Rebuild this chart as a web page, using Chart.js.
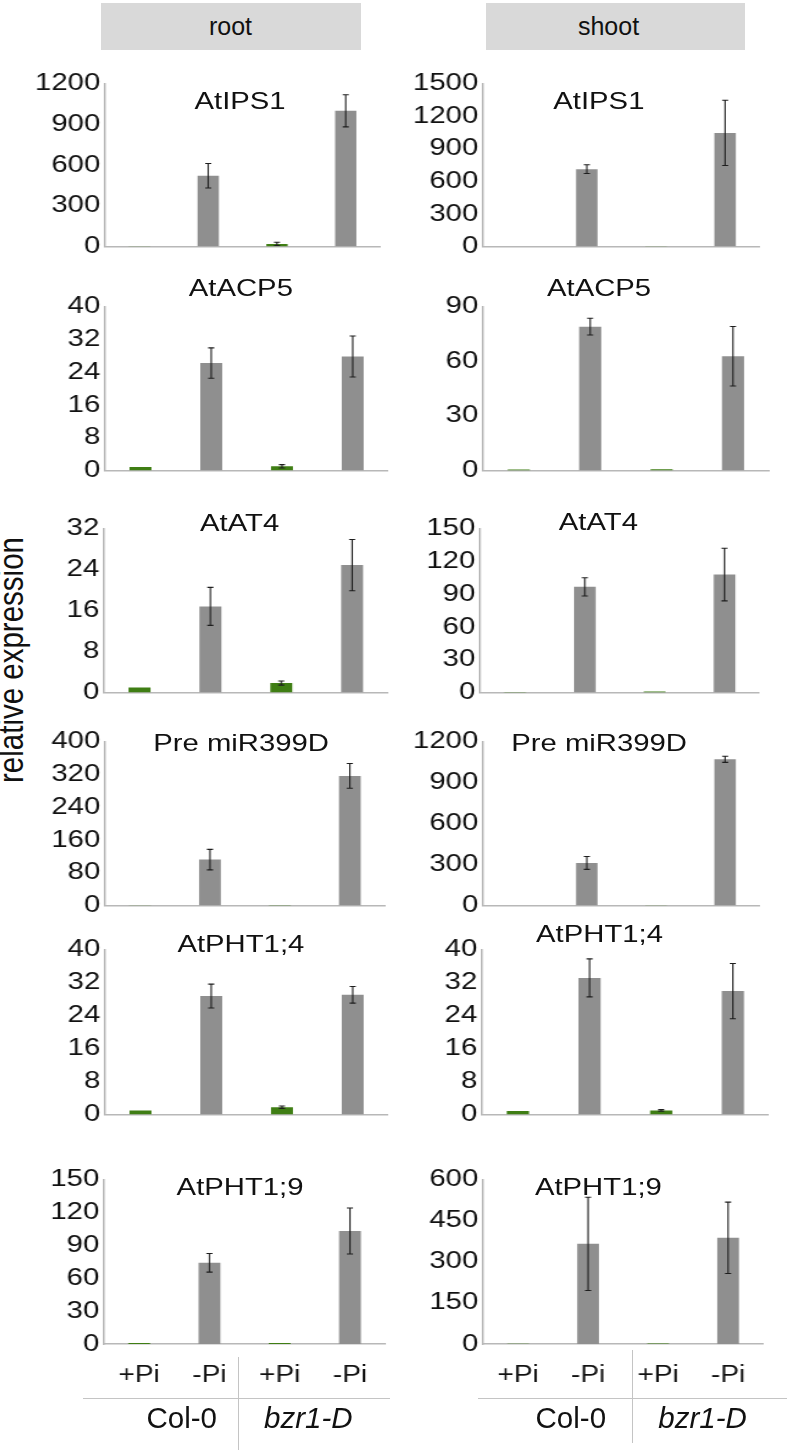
<!DOCTYPE html>
<html>
<head>
<meta charset="utf-8">
<script src="https://cdn.jsdelivr.net/npm/chart.js@4.4.1/dist/chart.umd.min.js"></script>
<style>
  html, body { margin: 0; padding: 0; background: #fff; }
  body { width: 789px; height: 1454px; position: relative; overflow: hidden;
         font-family: "Liberation Sans", Arial, Helvetica, sans-serif; color: #111; }
  .hdr { position: absolute; background: #d9d9d9; }
  .txt { position: absolute; white-space: nowrap; line-height: 1; }
  .panel { position: absolute; transform-origin: 0 0; }
  .panel canvas { position: absolute; left: 0; top: 0; }
  .ttl { position: absolute; white-space: nowrap; line-height: 1; font-size: 24px; color: #111;
         transform: translate(-50%, -50%); }
  .line { position: absolute; background: #c4c4c4; }
</style>
</head>
<body>
<script>
// ---------------- DATA ----------------
const tissues = ["root", "shoot"];
const categories = ["+Pi", "-Pi", "+Pi", "-Pi"];
const groupLabels = ["Col-0", "bzr1-D"];
const genes = ["AtIPS1", "AtACP5", "AtAT4", "Pre miR399D", "AtPHT1;4", "AtPHT1;9"];
const yAxisLabel = "relative expression";

const rootValues = [
  [2, 521, 20, 998],
  [0.9, 26.2, 1.05, 27.8],
  [1.0, 16.8, 1.85, 24.85],
  [1, 112, 1.5, 316],
  [1.0, 28.7, 1.8, 29.0],
  [1, 74, 0.8, 103]
];
const rootErrors = [
  [0.5, 90, 12, 118],
  [0.1, 3.7, 0.4, 5.0],
  [0.1, 3.7, 0.4, 5.0],
  [0.3, 25, 0.5, 30],
  [0.1, 2.9, 0.3, 2.0],
  [0.2, 8.5, 0.2, 21]
];
const shootValues = [
  [1, 712, 3, 1045],
  [0.6, 78.9, 0.8, 62.7],
  [0.5, 96.6, 1.0, 107.8],
  [1, 312, 2, 1069],
  [0.9, 33.1, 1.0, 29.9],
  [1, 365, 2, 387]
];
const shootErrors = [
  [0.3, 40, 1, 300],
  [0.1, 4.6, 0.3, 16.3],
  [0.1, 8.3, 0.5, 24],
  [0.3, 47, 0.5, 22],
  [0.1, 4.6, 0.2, 6.7],
  [0.3, 170, 0.5, 130]
];
const rootTicks = [
  [0, 300, 600, 900, 1200],
  [0, 8, 16, 24, 32, 40],
  [0, 8, 16, 24, 32],
  [0, 80, 160, 240, 320, 400],
  [0, 8, 16, 24, 32, 40],
  [0, 30, 60, 90, 120, 150]
];
const shootTicks = [
  [0, 300, 600, 900, 1200, 1500],
  [0, 30, 60, 90],
  [0, 30, 60, 90, 120, 150],
  [0, 300, 600, 900, 1200],
  [0, 8, 16, 24, 32, 40],
  [0, 150, 300, 450, 600]
];

// ---------------- STYLE / LAYOUT ----------------
const FONT = '"Liberation Sans", Arial, Helvetica, sans-serif';
const STRETCH = 1.22;
const GREEN = "#3f7e14", GRAY = "#8f8f8f", AXIS = "#b8b8b8";
const barColors = [GREEN, GRAY, GREEN, GRAY];
const rowTop  = [81, 304.3, 526.2, 739.3, 947.3, 1177];
const rowZero = [249, 472.7, 695, 908.3, 1116.7, 1344];
const axisLeft  = [[105, 482.7], [105, 482.7], [104.5, 480], [105.3, 482.7], [105, 481.7], [104, 482.7]];
const axisRight = [[380, 759.3], [388, 768.3], [388, 759.3], [385, 759.3], [388, 768.3], [385, 762.7]];
const titlePos = [
  [[240, 101], [598.5, 101]],
  [[240.8, 288.3], [598.7, 288.3]],
  [[240, 523.3], [598.3, 522]],
  [[241.3, 743.3], [598.7, 743.3]],
  [[240.8, 944.2], [599.2, 933.8]],
  [[240, 1187], [598, 1187]]
];

function addText(str, cx, cy, size, extra) {
  const d = document.createElement('div');
  d.className = 'txt';
  d.textContent = str;
  d.style.fontSize = size + 'px';
  d.style.left = cx + 'px';
  d.style.top = cy + 'px';
  d.style.transform = 'translate(-50%,-50%)' + (extra && extra.transform ? ' ' + extra.transform : '');
  if (extra && extra.italic) d.style.fontStyle = 'italic';
  document.body.appendChild(d);
  return d;
}
function addBox(cls, x, y, w, h) {
  const d = document.createElement('div');
  d.className = cls;
  d.style.left = x + 'px'; d.style.top = y + 'px';
  d.style.width = w + 'px'; d.style.height = h + 'px';
  document.body.appendChild(d);
  return d;
}

// header boxes
addBox('hdr', 101, 3, 260, 47);
addBox('hdr', 486, 3, 259, 47);
addText(tissues[0], 230.5, 26, 25);
addText(tissues[1], 608.5, 26, 25);

// y axis label
addText(yAxisLabel, 10.7, 660, 29.5, { transform: 'rotate(-90deg) scaleY(1.2)' });

// error bar plugin
const errorBars = {
  id: 'errorBars',
  afterDatasetsDraw(chart) {
    const ctx = chart.ctx;
    const ds = chart.data.datasets[0];
    const meta = chart.getDatasetMeta(0);
    const ys = chart.scales.y;
    ctx.save();
    ctx.strokeStyle = '#1e1e1e';
    ctx.lineWidth = 1.1;
    meta.data.forEach((bar, i) => {
      const e = ds.errors[i];
      if (!e) return;
      const v = ds.data[i];
      const yt = ys.getPixelForValue(v + e);
      const yb = ys.getPixelForValue(Math.max(v - e, 0));
      if (Math.abs(yb - yt) < 1.5) return;
      const x = bar.x, cap = 2.5;
      ctx.beginPath();
      ctx.moveTo(x, yt); ctx.lineTo(x, yb);
      ctx.moveTo(x - cap, yt); ctx.lineTo(x + cap, yt);
      ctx.moveTo(x - cap, yb); ctx.lineTo(x + cap, yb);
      ctx.stroke();
    });
    ctx.restore();
  }
};

function makePanel(col, row) {
  const vals = col === 0 ? rootValues[row] : shootValues[row];
  const errs = col === 0 ? rootErrors[row] : shootErrors[row];
  const tks = col === 0 ? rootTicks[row] : shootTicks[row];
  const x0 = axisLeft[row][col], x1 = axisRight[row][col];
  const top = rowTop[row], zero = rowZero[row];
  const isBottom = row === genes.length - 1;
  const YW = 64, PT = 16, XH = isBottom ? 48 : 16;
  const plotW = (x1 - x0) / STRETCH;
  const cw = Math.ceil(YW + plotW + 4);
  const padR = cw - YW - plotW;
  const plotH = zero - top;
  const ch = Math.ceil(PT + plotH + XH);
  const padB = ch - PT - plotH - XH;
  const L = x0 - YW * STRETCH;
  const T = top - PT;

  const wrap = document.createElement('div');
  wrap.className = 'panel';
  wrap.style.left = L + 'px';
  wrap.style.top = T + 'px';
  wrap.style.width = cw + 'px';
  wrap.style.height = ch + 'px';
  wrap.style.transform = 'scaleX(' + STRETCH + ')';
  const cv = document.createElement('canvas');
  cv.width = cw; cv.height = ch;
  wrap.appendChild(cv);
  const t = document.createElement('div');
  t.className = 'ttl';
  t.textContent = genes[row];
  t.style.left = ((titlePos[row][col][0] - L) / STRETCH) + 'px';
  t.style.top = (titlePos[row][col][1] - T) + 'px';
  wrap.appendChild(t);
  document.body.appendChild(wrap);

  new Chart(cv, {
    type: 'bar',
    data: {
      labels: categories,
      datasets: [{
        data: vals,
        errors: errs,
        backgroundColor: barColors,
        borderWidth: 0,
        barPercentage: 0.31,
        categoryPercentage: 1
      }]
    },
    options: {
      responsive: false,
      animation: false,
      devicePixelRatio: 1,
      layout: { padding: { top: PT, right: padR, bottom: padB, left: 0 } },
      plugins: { legend: { display: false }, tooltip: { enabled: false }, title: { display: false } },
      scales: {
        x: {
          grid: { display: false },
          border: { display: true, color: AXIS, width: 1.5 },
          ticks: { display: isBottom, color: '#111', padding: 10, maxRotation: 0,
                   font: { family: FONT, size: 23 } },
          afterFit: s => { s.height = XH; }
        },
        y: {
          min: 0,
          max: tks[tks.length - 1],
          grid: { display: false, drawTicks: false, tickLength: 0 },
          border: { display: true, color: AXIS, width: 1.5 },
          ticks: { stepSize: tks[1], autoSkip: false, color: '#111', padding: 4,
                   font: { family: FONT, size: 24 },
                   callback: v => String(v) },
          afterBuildTicks: s => { s.ticks = tks.map(v => ({ value: v })); },
          afterFit: s => { s.width = YW; }
        }
      }
    },
    plugins: [errorBars]
  });
}

for (let r = 0; r < genes.length; r++) {
  makePanel(0, r);
  makePanel(1, r);
}

// bottom group annotation
addBox('line', 83, 1397.5, 307, 1.2);
addBox('line', 237.5, 1357, 1.2, 93);
addBox('line', 478, 1397.5, 309, 1.2);
addBox('line', 632, 1350, 1.2, 93);
addText(groupLabels[0], 181.7, 1417.5, 29.5);
addText(groupLabels[1], 308.3, 1417.5, 29.5, { italic: true });
addText(groupLabels[0], 570.8, 1417.5, 29.5);
addText(groupLabels[1], 702.5, 1417.5, 29.5, { italic: true });
</script>
</body>
</html>
